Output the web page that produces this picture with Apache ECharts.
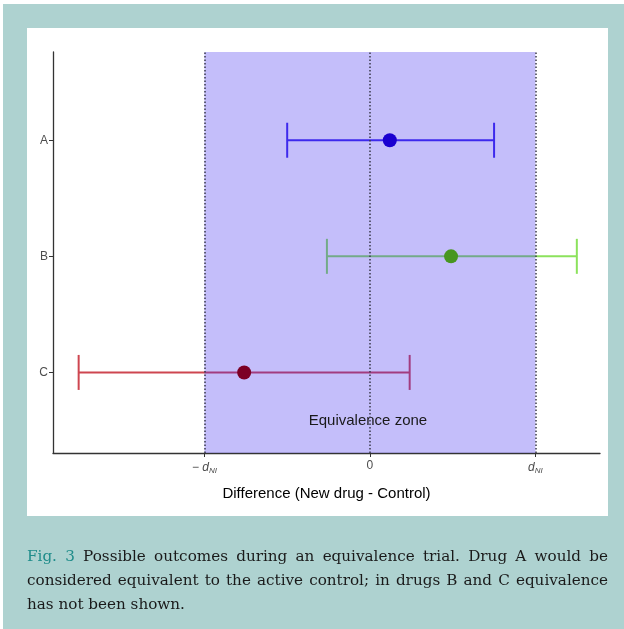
<!DOCTYPE html>
<html>
<head>
<meta charset="utf-8">
<script src="https://cdn.jsdelivr.net/npm/echarts@6/dist/echarts.min.js"></script>
<style>
  html, body { margin: 0; padding: 0; background: #ffffff; }
  #frame { position: absolute; left: 3px; top: 4px; width: 621px; height: 625px; background: #aed2d0; }
  #panel { position: absolute; left: 27px; top: 28px; width: 581px; height: 488px; background: #ffffff; }
  #chart { position: absolute; left: 0; top: 0; width: 624px; height: 629px; }
  #caption { position: absolute; left: 27px; top: 544px; width: 581px;
    font-family: "DejaVu Serif", serif; font-size: 15.2px; line-height: 24px; color: #1a1a1a; }
  #caption div { text-align: justify; text-align-last: justify; white-space: nowrap; }
  #caption div.last { text-align-last: left; }
  #caption .fig { color: #1f8c8a; }
</style>
</head>
<body>
<div id="frame"></div>
<div id="panel"></div>
<div id="chart"></div>
<div id="caption">
  <div><span class="fig">Fig. 3</span> Possible outcomes during an equivalence trial. Drug A would be</div>
  <div>considered equivalent to the active control; in drugs B and C equivalence</div>
  <div class="last">has not been shown.</div>
</div>
<script>
// Drugs, top to bottom, and their position on the vertical scale
const drugs = ['A', 'B', 'C'];
const drugPos = [3, 2, 1];
// Difference (new drug - control), in units of the margin d_NI
const lower = [-0.50, -0.26, -1.76];
const estimate = [0.12, 0.49, -0.76];
const upper = [0.75, 1.25, 0.24];
// Equivalence margins and reference line
const zoneBounds = [-1, 1];
const xTicks = [-1, 0, 1];

const barColors = ['rgb(62,42,236)', 'rgb(140,226,92)', 'rgb(206,70,80)'];
const pointColors = ['rgb(26,0,208)', 'rgb(72,150,32)', 'rgb(124,0,36)'];

const barData = drugs.map((d, i) => [drugPos[i], lower[i], estimate[i], upper[i], i]);
const pointData = drugs.map((d, i) => ({
  value: [estimate[i], drugPos[i]],
  itemStyle: { color: pointColors[i], opacity: 1 }
}));

const chart = echarts.init(document.getElementById('chart'), null, { renderer: 'canvas' });

const axisLabelColor = '#4d4d4d';

chart.setOption({
  backgroundColor: 'transparent',
  animation: false,
  grid: { left: 53, right: 24, top: 52, bottom: 176 },
  xAxis: {
    type: 'value',
    min: -1.915,
    max: 1.39,
    splitLine: { show: false },
    axisLine: { show: true, onZero: false, lineStyle: { color: '#333', width: 1.3 } },
    axisTick: { show: true, customValues: xTicks, length: 4, lineStyle: { color: '#333' } },
    axisLabel: {
      customValues: xTicks,
      margin: 7,
      formatter: v => v === 0 ? '{n|0}' : (v < 0 ? '{n|− }{d|d}{s|NI}' : '{d|d}{s|NI}'),
      rich: {
        n: { fontFamily: 'Liberation Sans', fontSize: 12, color: axisLabelColor },
        d: { fontFamily: 'Liberation Sans', fontSize: 12, fontStyle: 'italic', color: axisLabelColor },
        s: { fontFamily: 'Liberation Sans', fontSize: 8, fontStyle: 'italic', color: axisLabelColor,
             padding: [7, 0, 0, 0] }
      }
    },
    name: 'Difference (New drug - Control)',
    nameLocation: 'middle',
    nameGap: 33,
    nameTextStyle: { fontFamily: 'Liberation Sans', fontSize: 15, color: '#000' }
  },
  yAxis: {
    type: 'value',
    min: 0.306,
    max: 3.76,
    splitLine: { show: false },
    axisLine: { show: true, onZero: false, lineStyle: { color: '#333', width: 1.3 } },
    axisTick: { show: true, customValues: drugPos, length: 4, lineStyle: { color: '#333' } },
    axisLabel: {
      customValues: drugPos,
      margin: 5,
      fontFamily: 'Liberation Sans',
      fontSize: 12,
      color: axisLabelColor,
      formatter: v => drugs[drugPos.indexOf(v)]
    }
  },
  series: [
    {
      // confidence intervals with end caps
      type: 'custom',
      z: 1,
      data: barData,
      renderItem: (params, api) => {
        const y = api.value(0);
        const a = api.coord([api.value(1), y]);
        const b = api.coord([api.value(3), y]);
        const color = barColors[api.value(4)];
        const half = 17.5;
        const style = { stroke: color, lineWidth: 2 };
        return {
          type: 'group',
          children: [
            { type: 'line', shape: { x1: a[0], y1: a[1], x2: b[0], y2: b[1] }, style },
            { type: 'line', shape: { x1: a[0], y1: a[1] - half, x2: a[0], y2: a[1] + half }, style },
            { type: 'line', shape: { x1: b[0], y1: b[1] - half, x2: b[0], y2: b[1] + half }, style }
          ]
        };
      }
    },
    {
      // translucent equivalence zone laid over the intervals
      type: 'custom',
      z: 2,
      data: [[zoneBounds[0], zoneBounds[1]]],
      renderItem: (params, api) => {
        const cs = params.coordSys;
        const p0 = api.coord([api.value(0), 0.306]);
        const p1 = api.coord([api.value(1), 0.306]);
        const tl = api.coord([0, 0.582]);
        return {
          type: 'group',
          children: [
            { type: 'rect', shape: { x: p0[0], y: cs.y, width: p1[0] - p0[0], height: cs.height },
              style: { fill: 'rgba(60,40,240,0.3)' } },
            { type: 'text', x: tl[0] - 2, y: tl[1],
              style: { text: 'Equivalence zone', fontFamily: 'Liberation Sans', fontSize: 15,
                       fill: '#1a1a1a', align: 'center', verticalAlign: 'middle' } }
          ]
        };
      },
      markLine: {
        symbol: 'none',
        silent: true,
        label: { show: false },
        lineStyle: { color: '#3a3a4a', width: 1.5, type: [1.5, 2] },
        data: xTicks.map(v => ({ xAxis: v }))
      }
    },
    {
      // point estimates
      type: 'scatter',
      z: 3,
      symbol: 'circle',
      symbolSize: 14,
      itemStyle: { opacity: 1 },
      data: pointData
    }
  ]
});
</script>
</body>
</html>
